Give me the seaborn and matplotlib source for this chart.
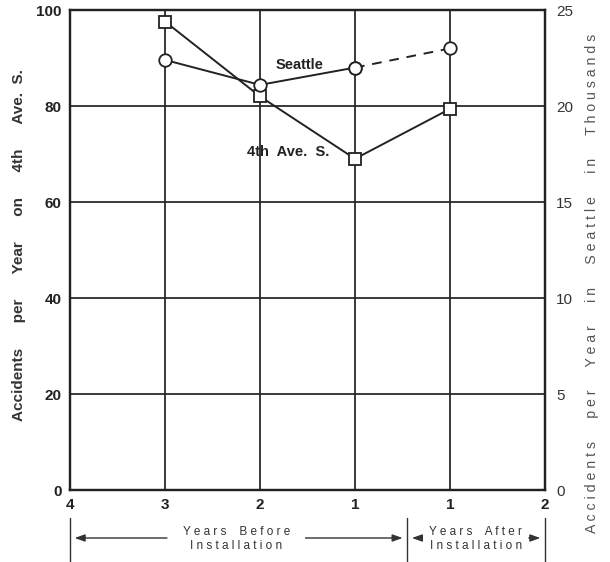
import matplotlib
matplotlib.use("Agg")
import matplotlib.pyplot as plt
import matplotlib.transforms as mtransforms
import seaborn as sns
import pandas as pd

# ---- data ----
x_tick_labels = ["4", "3", "2", "1", "1", "2"]
period_pos = [1, 2, 3, 4]                 # 3,2,1 years before; 1 year after
ave_s_accidents = [97.6, 82.0, 69.0, 79.4]  # accidents/yr on 4th Ave. S.
seattle_thousands = [22.4, 21.1, 22.0, 23.0]  # accidents/yr in Seattle (thousands)
left_ticks = [0, 20, 40, 60, 80, 100]
right_ticks = [0, 5, 10, 15, 20, 25]

sns.set_theme(style="white")
plt.rcParams['font.family'] = ['Liberation Sans', 'DejaVu Sans']

fig = plt.figure(figsize=(6.1, 5.62), dpi=100)
ax = fig.add_axes([70/610, 72/562, 475/610, 480/562])
ax2 = ax.twinx()

df_ave = pd.DataFrame({"x": period_pos, "y": ave_s_accidents})
df_sea_solid = pd.DataFrame({"x": period_pos[:3], "y": seattle_thousands[:3]})
df_sea_dash = pd.DataFrame({"x": period_pos[2:], "y": seattle_thousands[2:]})

# grid
for v in left_ticks[1:-1]:
    ax.axhline(v, color="#2a2a2a", lw=1.3, zorder=1)
for p in range(1, 5):
    ax.axvline(p, color="#2a2a2a", lw=1.3, zorder=1)

sns.lineplot(data=df_ave, x="x", y="y", ax=ax, color="#222222", lw=1.4,
             marker="s", markersize=8, markerfacecolor="white",
             markeredgecolor="#222222", markeredgewidth=1.3, zorder=5)
sns.lineplot(data=df_sea_solid, x="x", y="y", ax=ax2, color="#222222", lw=1.4,
             marker="o", markersize=9, markerfacecolor="white",
             markeredgecolor="#222222", markeredgewidth=1.3, zorder=5)
sns.lineplot(data=df_sea_dash, x="x", y="y", ax=ax2, color="#222222", lw=1.4,
             linestyle=(0, (5, 4)),
             marker="o", markersize=9, markerfacecolor="white",
             markeredgecolor="#222222", markeredgewidth=1.3, zorder=4)
ax.set_xlim(0, 5)
ax.set_ylim(0, 100)
ax2.set_ylim(0, 25)
ax2.set_xlim(0, 5)

ax.set_xticks(range(6))
ax.set_xticklabels(x_tick_labels, fontsize=11, fontweight="bold", color="#222222")
ax.set_yticks(left_ticks)
ax.set_yticklabels([str(t) for t in left_ticks], fontsize=11, fontweight="bold", color="#222222")
ax2.set_yticks(right_ticks)
ax2.set_yticklabels([str(t) for t in right_ticks], fontsize=11, color="#333333")
ax.tick_params(axis="both", length=0, pad=6)
ax2.tick_params(axis="y", length=0, pad=8)
ax.set_xlabel("")
ax2.set_xlabel("")

for a in (ax, ax2):
    for s in a.spines.values():
        s.set_color("#222222")
        s.set_linewidth(1.6)

ax.set_ylabel("Accidents      per      Year      on      4th      Ave.  S.", fontsize=11,
              fontweight="bold", color="#333333", va="center")
ax.yaxis.set_label_coords(-0.108, 0.51)
ax2.set_ylabel("A c c i d e n t s      p e r      Y e a r      i n      S e a t t l e      i n      T h o u s a n d s",
               fontsize=10.2, color="#555555", rotation=90, va="center")
ax2.yaxis.set_label_coords(1.099, 0.43)

ax.text(2.42, 88.5, "Seattle", fontsize=10.5, fontweight="bold",
        color="#222222", ha="center", va="center")
ax.text(2.3, 70.5, "4th  Ave.  S.", fontsize=10.5, fontweight="bold",
        color="#222222", ha="center", va="center")

# bottom bracket annotation
trans = mtransforms.blended_transform_factory(ax.transData, fig.transFigure)
def fy(py):
    return 1 - py / 562.0

mid = 3.55
for xv in (0, mid, 5):
    ax.plot([xv, xv], [fy(518), fy(562)], transform=trans, color="#333333",
            lw=1.0, clip_on=False)
arrow_kw = dict(arrowstyle="-|>,head_length=0.5,head_width=0.18", color="#333333", lw=1.0)
ay = fy(538)
ax.annotate("", xy=(0.02, ay), xytext=(1.05, ay), xycoords=trans, textcoords=trans,
            arrowprops=arrow_kw, annotation_clip=False)
ax.annotate("", xy=(mid - 0.02, ay), xytext=(2.45, ay), xycoords=trans, textcoords=trans,
            arrowprops=arrow_kw, annotation_clip=False)
ax.annotate("", xy=(mid + 0.02, ay), xytext=(3.7, ay), xycoords=trans, textcoords=trans,
            arrowprops=arrow_kw, annotation_clip=False)
ax.annotate("", xy=(4.98, ay), xytext=(4.8, ay), xycoords=trans, textcoords=trans,
            arrowprops=arrow_kw, annotation_clip=False)
ax.text(1.75, fy(539), "Y e a r s    B e f o r e\nI n s t a l l a t i o n", transform=trans,
        ha="center", va="center", fontsize=8.5, color="#333333", linespacing=1.3)
ax.text(4.27, fy(539), "Y e a r s    A f t e r\nI n s t a l l a t i o n", transform=trans,
        ha="center", va="center", fontsize=8.5, color="#333333", linespacing=1.3)

fig.savefig("out.png", dpi=100)
